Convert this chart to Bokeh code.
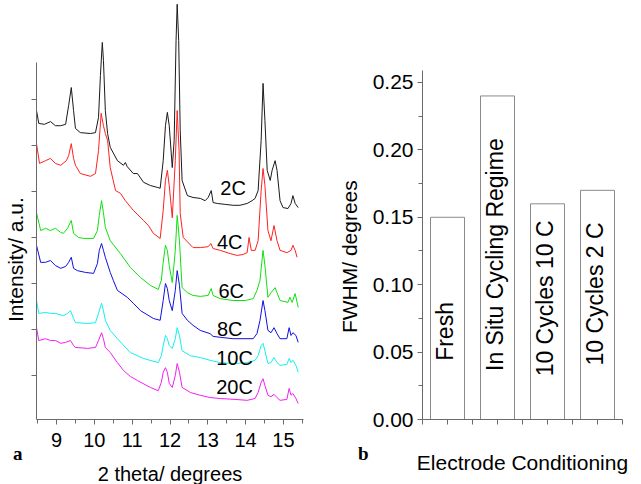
from math import pi
from bokeh.plotting import figure
from bokeh.layouts import row
from bokeh.models import FixedTicker, Range1d, PrintfTickFormatter, Div
from bokeh.core.properties import value
from bokeh.embed import file_html
from bokeh.resources import INLINE

FONT = "Liberation Sans"
AX = "#6a6a6a"
NBSP = "\u00a0"

# ---------------- Panel a: XRD patterns (2 theta in degrees, intensity a.u.) ----------------
tt_2C = [8.47, 8.53, 8.68, 8.84, 8.97, 9.11, 9.24, 9.32, 9.39, 9.45, 9.50, 9.63, 9.90, 10.03, 10.11, 10.16,
         10.21, 10.24, 10.29, 10.35, 10.42, 10.61, 10.77, 10.82, 10.87, 11.03, 11.14, 11.30, 11.48, 11.66,
         11.74, 11.82, 11.88, 11.93, 11.98, 12.06, 12.11, 12.16, 12.19, 12.23, 12.27, 12.32, 12.46, 12.61,
         12.80, 12.93, 13.01, 13.09, 13.14, 13.25, 13.46, 13.67, 13.85, 14.04, 14.17, 14.25, 14.33, 14.41,
         14.46, 14.51, 14.57, 14.65, 14.70, 14.78, 14.83, 14.91, 14.99, 15.12, 15.20, 15.25, 15.31, 15.39]
int_2C = [6.76, 6.48, 6.46, 6.52, 6.43, 6.43, 6.46, 6.87, 7.26, 6.76, 6.37, 6.28, 6.26, 6.28, 6.61, 7.52,
          8.24, 7.85, 6.76, 6.26, 5.96, 5.67, 5.57, 5.63, 5.54, 5.39, 5.39, 5.20, 5.13, 5.09,
          5.07, 5.67, 6.43, 6.72, 6.43, 5.52, 6.11, 8.28, 9.07, 8.28, 6.33, 5.24, 4.91, 4.87,
          4.85, 4.80, 4.87, 5.02, 4.76, 4.74, 4.72, 4.70, 4.70, 4.74, 4.80, 4.85, 5.02, 6.11,
          7.35, 6.54, 5.46, 5.24, 5.46, 5.67, 5.46, 4.80, 4.65, 4.63, 4.74, 4.91, 4.74, 4.65]

tt_4C = [8.47, 8.55, 8.71, 8.84, 8.97, 9.11, 9.26, 9.32, 9.39, 9.45, 9.50, 9.63, 9.90, 10.03, 10.11, 10.18,
         10.24, 10.29, 10.35, 10.42, 10.56, 10.69, 10.82, 11.03, 11.30, 11.43, 11.56, 11.74, 11.82, 11.88,
         11.93, 11.98, 12.06, 12.14, 12.19, 12.24, 12.27, 12.35, 12.61, 12.80, 13.01, 13.08, 13.14, 13.33,
         13.59, 13.78, 13.93, 14.04, 14.09, 14.15, 14.25, 14.33, 14.41, 14.46, 14.51, 14.59, 14.67, 14.75,
         14.83, 14.91, 15.09, 15.20, 15.25, 15.31, 15.36]
int_4C = [6.04, 5.61, 5.67, 5.72, 5.61, 5.57, 5.67, 5.78, 6.04, 5.72, 5.57, 5.39, 5.33, 5.39, 5.89, 6.70,
          6.43, 6.26, 6.11, 5.52, 5.02, 4.96, 4.80, 4.59, 4.37, 4.26, 4.09, 3.98, 4.59, 5.24,
          5.46, 5.13, 4.43, 5.67, 6.76, 5.89, 4.52, 4.00, 3.78, 3.78, 3.80, 3.87, 3.76, 3.72,
          3.65, 3.61, 3.63, 3.67, 4.00, 3.72, 3.72, 3.93, 5.02, 5.50, 5.13, 4.15, 3.93, 4.26,
          3.93, 3.72, 3.67, 3.72, 3.83, 3.72, 3.57]

tt_6C = [8.47, 8.58, 8.71, 8.84, 8.97, 9.11, 9.18, 9.29, 9.39, 9.45, 9.58, 9.71, 9.98, 10.08, 10.13, 10.19,
         10.24, 10.29, 10.42, 10.69, 10.95, 11.22, 11.48, 11.69, 11.77, 11.82, 11.88, 11.93, 11.98, 12.06,
         12.14, 12.19, 12.25, 12.32, 12.46, 12.61, 12.80, 13.01, 13.09, 13.14, 13.33, 13.67, 13.99, 14.20,
         14.30, 14.38, 14.46, 14.51, 14.59, 14.67, 14.78, 14.83, 14.91, 15.12, 15.17, 15.23, 15.31, 15.39]
int_6C = [4.54, 4.15, 4.20, 4.15, 4.20, 4.11, 4.09, 4.20, 4.37, 4.09, 4.00, 3.98, 3.98, 4.15, 4.48, 4.80,
          4.54, 4.22, 3.93, 3.65, 3.35, 3.13, 2.96, 2.87, 3.07, 3.46, 3.83, 3.72, 3.39, 3.02,
          3.72, 4.48, 3.93, 2.91, 2.80, 2.74, 2.72, 2.74, 2.89, 2.74, 2.67, 2.63, 2.63, 2.67,
          2.85, 3.07, 3.72, 3.39, 2.70, 2.80, 2.91, 2.80, 2.63, 2.59, 2.70, 2.59, 2.78, 2.48]

tt_8C = [8.47, 8.58, 8.71, 8.84, 8.97, 9.11, 9.24, 9.32, 9.39, 9.45, 9.55, 9.77, 9.98, 10.08, 10.13, 10.19,
         10.24, 10.29, 10.42, 10.50, 10.61, 10.87, 11.03, 11.22, 11.56, 11.74, 11.82, 11.88, 11.93, 11.98,
         12.06, 12.14, 12.19, 12.25, 12.32, 12.46, 12.61, 12.80, 13.06, 13.14, 13.33, 13.67, 14.20, 14.30,
         14.38, 14.46, 14.51, 14.59, 14.67, 14.75, 14.83, 14.91, 15.09, 15.15, 15.20, 15.25, 15.33, 15.39]
int_8C = [3.83, 3.46, 3.46, 3.50, 3.39, 3.33, 3.37, 3.46, 3.57, 3.33, 3.28, 3.24, 3.22, 3.43, 3.72, 3.87,
          3.72, 3.57, 3.24, 3.07, 2.85, 2.70, 2.57, 2.41, 2.24, 2.20, 2.63, 3.00, 2.89, 2.63,
          2.41, 2.85, 3.28, 2.96, 2.35, 2.20, 2.09, 1.98, 1.91, 1.85, 1.83, 1.80, 1.80, 1.91,
          2.20, 2.63, 2.41, 1.98, 1.93, 2.04, 1.91, 1.80, 1.80, 2.04, 1.87, 1.93, 1.87, 1.72]

tt_10C = [8.47, 8.53, 8.71, 8.84, 8.97, 9.18, 9.29, 9.37, 9.45, 9.50, 9.82, 10.03, 10.11, 10.19, 10.24,
          10.29, 10.42, 10.61, 10.95, 11.30, 11.69, 11.77, 11.82, 11.88, 11.93, 11.98, 12.06, 12.14, 12.19,
          12.25, 12.32, 12.54, 12.80, 13.06, 13.33, 13.72, 14.04, 14.25, 14.33, 14.41, 14.46, 14.51, 14.59,
          14.67, 14.75, 14.83, 14.91, 15.09, 15.15, 15.20, 15.25, 15.33, 15.39]
int_10C = [2.63, 2.35, 2.37, 2.35, 2.35, 2.30, 2.35, 2.41, 2.24, 2.15, 2.13, 2.15, 2.35, 2.57, 2.41,
           2.20, 1.98, 1.80, 1.50, 1.37, 1.28, 1.43, 1.65, 1.87, 1.80, 1.65, 1.59, 1.80, 2.04,
           1.87, 1.54, 1.43, 1.39, 1.33, 1.28, 1.26, 1.28, 1.33, 1.43, 1.65, 1.70, 1.54, 1.26,
           1.28, 1.39, 1.28, 1.22, 1.24, 1.37, 1.28, 1.33, 1.22, 1.07]

tt_20C = [8.47, 8.53, 8.71, 8.84, 8.97, 9.11, 9.24, 9.37, 9.45, 9.50, 9.82, 10.03, 10.11, 10.19, 10.24,
          10.29, 10.42, 10.61, 10.77, 10.95, 11.14, 11.48, 11.69, 11.77, 11.82, 11.88, 11.93, 11.98, 12.06,
          12.14, 12.19, 12.25, 12.32, 12.54, 12.80, 13.06, 13.33, 13.72, 14.04, 14.25, 14.33, 14.41, 14.46,
          14.51, 14.59, 14.67, 14.75, 14.83, 14.91, 15.09, 15.15, 15.20, 15.25, 15.33, 15.39]
int_20C = [2.04, 1.76, 1.80, 1.76, 1.76, 1.70, 1.72, 1.76, 1.65, 1.61, 1.59, 1.61, 1.76, 1.93, 1.80,
           1.61, 1.50, 1.28, 1.11, 0.98, 0.89, 0.74, 0.67, 0.85, 1.07, 1.17, 1.07, 0.83, 0.74,
           1.00, 1.26, 1.07, 0.74, 0.63, 0.57, 0.52, 0.50, 0.48, 0.46, 0.50, 0.63, 0.85, 0.93,
           0.78, 0.57, 0.54, 0.59, 0.52, 0.46, 0.48, 0.72, 0.57, 0.61, 0.50, 0.39]

trace_names = ["2C", "4C", "6C", "8C", "10C", "20C"]
trace_x = [tt_2C, tt_4C, tt_6C, tt_8C, tt_10C, tt_20C]
trace_y = [int_2C, int_4C, int_6C, int_8C, int_10C, int_20C]
trace_colors = ["#1a1a1a", "#ff2020", "#10e010", "#1010e0", "#10f0f0", "#f020f0"]
name_x = [13.33, 13.24, 13.28, 13.24, 13.22, 13.22]
name_y = [5.07, 3.91, 2.83, 2.00, 1.38, 0.75]

x_major = [9, 10, 11, 12, 13, 14, 15]
x_minor = [8.5, 9.5, 10.5, 11.5, 12.5, 13.5, 14.5, 15.5]
y_major_a = [1, 2, 3, 4, 5, 6, 7]

# ---------------- Panel b: FWHM bars ----------------
conditions = ["Fresh", "In Situ Cycling Regime", "10 Cycles 10 C", "10 Cycles 2 C"]
fwhm = [0.15, 0.24, 0.16, 0.17]
fwhm_ticks = [0.0, 0.05, 0.10, 0.15, 0.20, 0.25]
fwhm_minor = [0.025, 0.075, 0.125, 0.175, 0.225]
label_base = [0.0435, 0.036, 0.032, 0.040]

bar_pos = list(range(1, len(conditions) + 1))

FRAME_H = 419

# ---------------- figure a ----------------
pa = figure(frame_width=267, frame_height=FRAME_H,
            x_range=Range1d(8.47, 15.53), y_range=Range1d(0.0435, 9.152),
            output_backend="svg", toolbar_location=None,
            min_border_left=36, min_border_right=27, min_border_top=0, min_border_bottom=0)
pa.outline_line_color = None
pa.grid.visible = False

for xs, ys, c in zip(trace_x, trace_y, trace_colors):
    pa.line(xs, ys, line_color=c, line_width=1)

pa.text(x=name_x, y=name_y, text=trace_names, text_font=value(FONT), text_font_size="20px",
        text_align="left", text_baseline="middle", text_color="black")

xa = pa.xaxis[0]
xa.ticker = FixedTicker(ticks=x_major, minor_ticks=x_minor)
xa.axis_label = "2 theta/ degrees"
ya = pa.yaxis[0]
ya.ticker = FixedTicker(ticks=y_major_a)
ya.bounds = (0.0435, 7.8)
ya.axis_label = "Intensity/ a.u." + NBSP * 17
ya.major_label_text_font_size = "1px"
ya.major_label_text_color = None
ya.major_label_standoff = 0
ya.axis_label_standoff = 5

for ax in (xa, ya):
    ax.axis_line_color = AX
    ax.major_tick_line_color = AX
    ax.minor_tick_line_color = AX if ax is xa else None
    ax.major_tick_in = 0
    ax.major_tick_out = 5
    ax.minor_tick_in = 0
    ax.minor_tick_out = 4
    ax.axis_label_text_font = FONT
    ax.axis_label_text_font_style = "normal"
    ax.axis_label_text_color = "black"
    ax.major_label_text_font = FONT
ya.axis_label_text_font_size = "21px"
xa.axis_label_text_font_size = "20px"
xa.major_label_text_color = "black"
xa.major_label_text_font_size = "20px"
xa.major_label_standoff = 8
xa.axis_label_standoff = 13

# ---------------- figure b ----------------
pb = figure(frame_width=200, frame_height=FRAME_H,
            x_range=Range1d(0.5, 4.5), y_range=Range1d(0, 0.3108),
            output_backend="svg", toolbar_location=None,
            min_border_left=92, min_border_right=15, min_border_top=0, min_border_bottom=0)
pb.outline_line_color = None
pb.grid.visible = False

pb.vbar(x=bar_pos, top=fwhm, width=0.68, fill_color="white", line_color="#8a8a8a", line_width=1)
pb.text(x=[b - 0.06 for b in bar_pos], y=label_base, text=conditions, angle=pi / 2,
        text_font=value(FONT), text_font_size="23px", text_align="left", text_baseline="middle",
        text_color="black")

xb = pb.xaxis[0]
xb.ticker = FixedTicker(ticks=bar_pos, minor_ticks=[b - 0.5 for b in bar_pos] + [bar_pos[-1] + 0.5])
xb.major_label_text_font_size = "1px"
xb.major_label_text_color = None
xb.major_label_standoff = 0
xb.axis_label = "Electrode Conditioning"
xb.axis_label_standoff = 26
yb = pb.yaxis[0]
yb.ticker = FixedTicker(ticks=fwhm_ticks, minor_ticks=fwhm_minor)
yb.formatter = PrintfTickFormatter(format="%.2f")
yb.bounds = (0, 0.259)
yb.axis_label = "FWHM/ degrees" + NBSP * 16
yb.major_label_text_font_size = "21px"
yb.major_label_text_color = "black"
yb.major_label_standoff = 4
yb.axis_label_standoff = 9

for ax in (xb, yb):
    ax.axis_line_color = AX
    ax.major_tick_line_color = AX
    ax.minor_tick_line_color = AX
    ax.major_tick_in = 0
    ax.major_tick_out = 5
    ax.minor_tick_in = 0
    ax.minor_tick_out = 4 if ax is yb else 5
    ax.axis_label_text_font = FONT
    ax.axis_label_text_font_style = "normal"
    ax.axis_label_text_font_size = "21px"
    ax.axis_label_text_color = "black"
    ax.major_label_text_font = FONT

# panel letters
letter_style = {"position": "absolute", "font-family": "Liberation Serif", "font-weight": "bold",
                "font-size": "19px", "line-height": "22px", "color": "black", "margin": "0", "padding": "0"}
div_a = Div(text="a", width=16, height=22, styles=dict(letter_style, left="13px", top="443px"))
div_b = Div(text="b", width=16, height=22, styles=dict(letter_style, left="358px", top="443px"))

layout = row(pa, pb, div_a, div_b)
open("out.html", "w").write(file_html(layout, INLINE))
